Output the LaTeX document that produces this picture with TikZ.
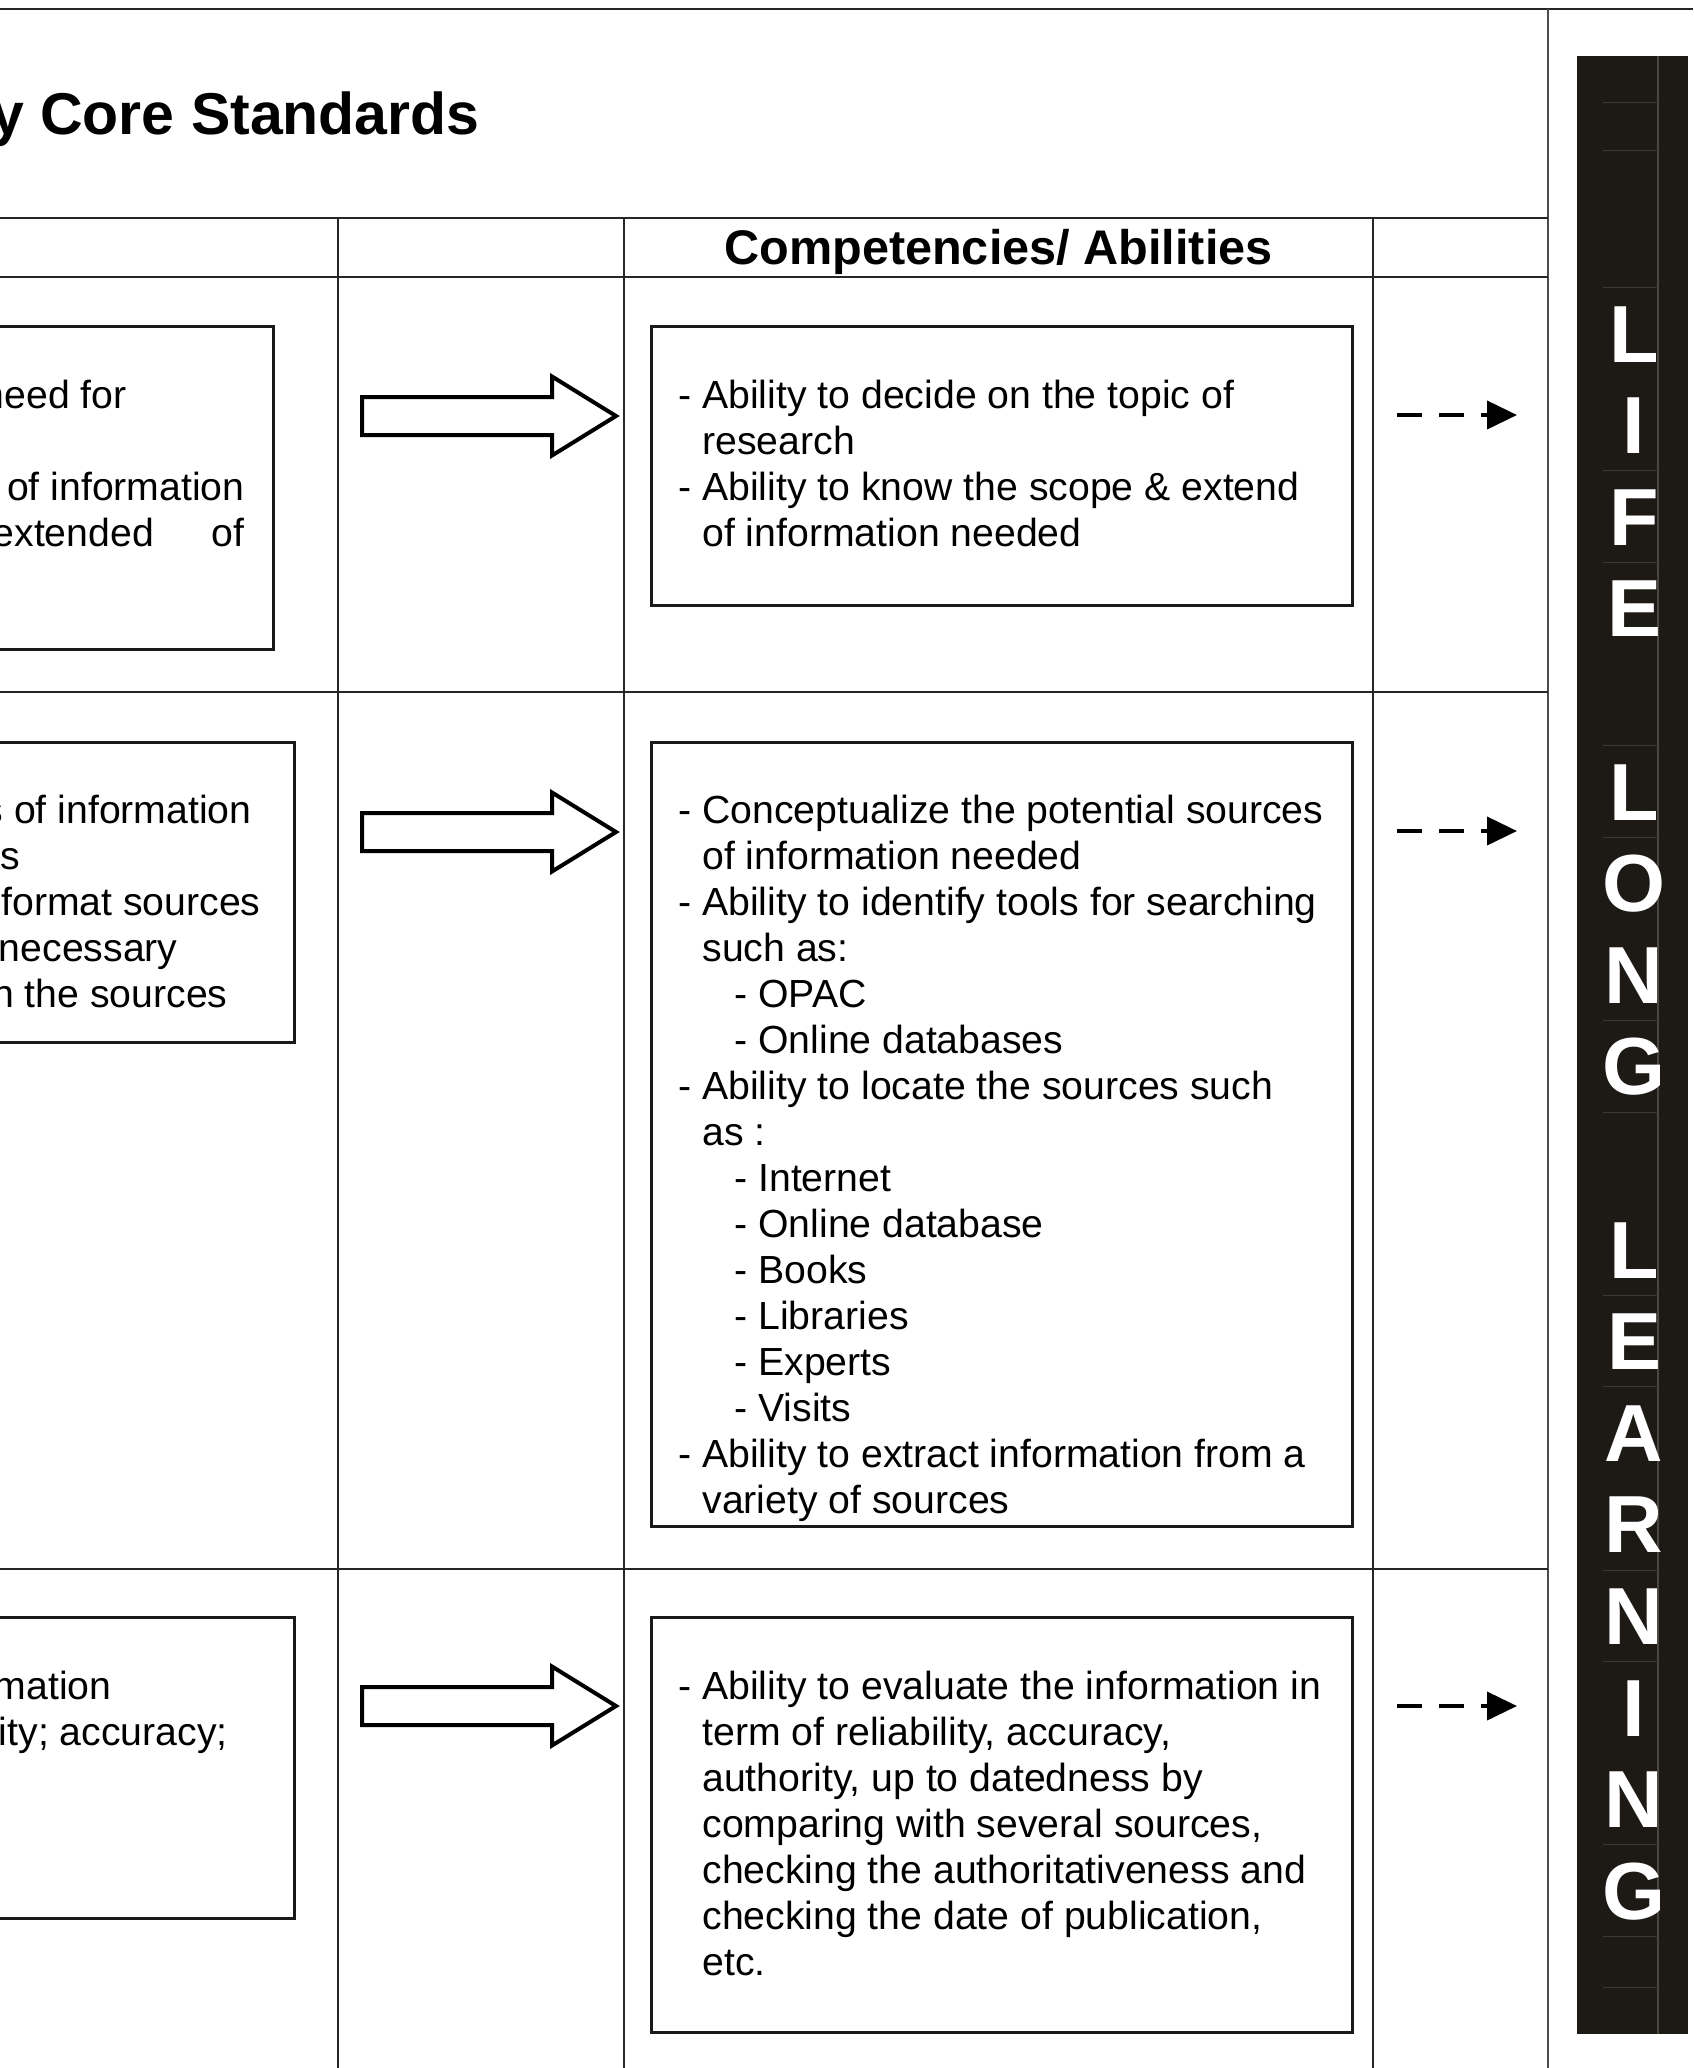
\documentclass[tikz,border=0pt]{standalone}
\usepackage{fontspec}
\setmainfont{Liberation Sans}
\usetikzlibrary{arrows.meta}
\definecolor{barfill}{HTML}{1D1A15}
\definecolor{barline}{HTML}{4A463E}
\definecolor{barfaint}{HTML}{3C3932}
\newcommand\hgap{\hspace*{12pt}}
\newcommand\sgap{\hspace*{28pt}}
\begin{document}
\begin{tikzpicture}[x=0.5pt,y=-0.5pt,
  tableline/.style={line width=1.3pt, draw=black!85},
  boxline/.style={line width=1.5pt, draw=black!90},
  blockarrow/.style={line width=2pt, draw=black, fill=white, line join=miter},
  dasharrow/.style={line width=2pt, dash pattern=on 12.5pt off 8.5pt, -{Triangle[length=15pt,width=14pt]}},
  body/.style={font=\fontsize{19.6pt}{23pt}\selectfont, inner sep=0pt, align=left},
  frag/.style={font=\fontsize{19.6pt}{23pt}\selectfont, inner sep=0pt, anchor=base east},
  barletter/.style={font=\bfseries\fontsize{40.5pt}{42pt}\selectfont, text=white, inner sep=0pt, anchor=base},
  barfaintline/.style={draw=barfaint, line width=0.5pt}
]
\useasboundingbox (0,0) rectangle (1693,2068);
\fill[white] (0,0) rectangle (1693,2068);
\begin{scope}
\clip (0,0) rectangle (1693,2068);

% table grid
\draw[tableline] (0,9) -- (1693,9);
\draw[line width=1pt, draw=black!70] (1548,9) -- (1548,2068);
\draw[tableline] (0,218) -- (1548,218);
\draw[tableline] (0,277) -- (1548,277);
\draw[tableline] (0,692) -- (1548,692);
\draw[tableline] (0,1569) -- (1548,1569);
\foreach \xx in {338,624,1373} \draw[tableline] (\xx,218) -- (\xx,2068);

% title and header
\node[anchor=base east, font=\bfseries\fontsize{29.5pt}{32pt}\selectfont, inner sep=0pt] (title) at (480,134) {y Core Standards};
\node[anchor=base, font=\bfseries\fontsize{24.3pt}{26pt}\selectfont, inner sep=0pt] (hdr) at (998.5,264) {Competencies/ Abilities};

% left boxes
\draw[boxline] (-10,326) rectangle (273,649);
\draw[boxline] (-10,742) rectangle (294,1042);
\draw[boxline] (-10,1617) rectangle (294,1918);
\node[frag] (l1a) at (127,408) {need for};
\node[frag] (l1b) at (245,500) {of information};
\node[frag] (l1c) at (245,546) {extended\hspace{29pt}of};
\node[frag] (l2a) at (252,823) {s of information};
\node[frag] (l2b) at (20,869) {s};
\node[frag] (l2c) at (261,915) {format sources};
\node[frag] (l2d) at (178,961) {necessary};
\node[frag] (l2e) at (228,1007) {n the sources};
\node[frag] (l3a) at (112,1699) {mation};
\node[frag] (l3b) at (228,1745) {ity; accuracy;};

% block arrows
\foreach \yy in {416,832,1706}
  \draw[blockarrow] (362,{\yy-19}) -- (552,{\yy-19}) -- (552,{\yy-39.5}) -- (616,\yy)
     -- (552,{\yy+39.5}) -- (552,{\yy+19}) -- (362,{\yy+19}) -- cycle;

% right boxes
\draw[boxline] (651,326) rectangle (1352,605);
\draw[boxline] (651,742) rectangle (1352,1526);
\draw[boxline] (651,1617) rectangle (1352,2032);

% (anchored at the baseline of the last line)
\node[body, anchor=base west] (r1) at (678,546) {- Ability to decide on the topic of\\\hgap research\\- Ability to know the scope \& extend\\\hgap of information needed};
\node[body, anchor=base west] (r2) at (678,1513) {- Conceptualize the potential sources\\\hgap of information needed\\- Ability to identify tools for searching\\\hgap such as:\\\sgap - OPAC\\\sgap - Online databases\\- Ability to locate the sources such\\\hgap as :\\\sgap - Internet\\\sgap - Online database\\\sgap - Books\\\sgap - Libraries\\\sgap - Experts\\\sgap - Visits\\- Ability to extract information from a\\\hgap variety of sources};
\node[body, anchor=base west] (r3) at (678,1975) {- Ability to evaluate the information in\\\hgap term of reliability, accuracy,\\\hgap authority, up to datedness by\\\hgap comparing with several sources,\\\hgap checking the authoritativeness and\\\hgap checking the date of publication,\\\hgap etc.};

% dashed arrows
\foreach \yy [count=\i] in {415,831,1706} {
  \coordinate (ds\i) at (1397,\yy);
  \coordinate (de\i) at (1517,\yy);
  \draw[dasharrow] (ds\i) -- (de\i);
}

% life long learning bar
\fill[barfill] (1577,56) rectangle (1688,2034);
\draw[draw=barline, line width=0.6pt] (1658,56) -- (1658,2034);
\foreach \yy in {102,150,287,470,562,745,837,1020,1112,1295,1386,1570,1661,1844,1936,1987}
  \draw[barfaintline] (1603,\yy) -- (1658,\yy);
\foreach \ch/\k in {L/0,I/1,F/2,E/3,L/5,O/6,N/7,G/8,L/10,E/11,A/12,R/13,N/14,I/15,N/16,G/17}
  \node[barletter] (bar\k) at (1634,{362+91.6*\k}) {\ch};
\end{scope}
\end{tikzpicture}
\end{document}
